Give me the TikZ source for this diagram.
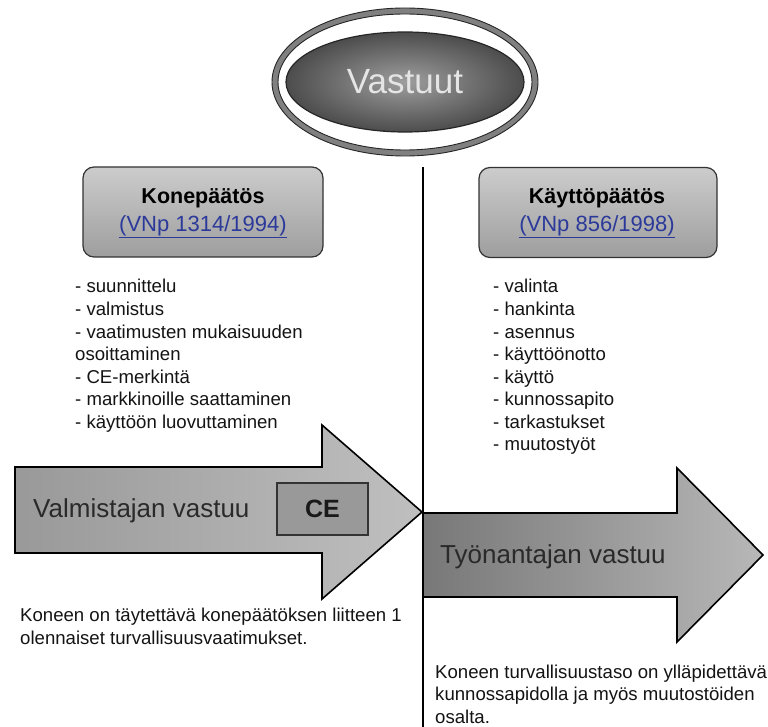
\documentclass[tikz,border=0pt]{standalone}
\usepackage{fontspec}
\setmainfont{Liberation Sans}
\usetikzlibrary{shapes.geometric}
\definecolor{linkblue}{HTML}{2B3A9A}
\definecolor{arrowtext}{HTML}{2A2A2A}
\tikzset{
  listtext/.style={anchor=base west, inner sep=0pt, font=\fontsize{18.6}{22}\selectfont, text=black!92},
  titlebox/.style={draw=black!80, line width=1.2pt, rounded corners=11pt,
    top color=black!20, middle color=white, bottom color=black!38,
    minimum width=240pt, minimum height=90pt, inner sep=0pt},
  boxtitle/.style={inner sep=0pt, font=\bfseries\fontsize{21.5}{24}\selectfont},
  boxlink/.style={inner sep=0pt, font=\fontsize{22}{24}\selectfont, text=linkblue},
  bigarrow/.style={draw=black, line width=1.6pt, line join=miter},
  arrowlabel/.style={anchor=west, inner sep=0pt, font=\fontsize{26}{30}\selectfont, text=arrowtext},
}
\begin{document}
\begin{tikzpicture}[x=1pt,y=-1pt]
\useasboundingbox (0,0) rectangle (768,727);
\fill[white] (0,0) rectangle (768,727);

% title ellipse
\fill[black!50, even odd rule] (405,82) ellipse [x radius=133, y radius=74]
      (405,82) ellipse [x radius=127, y radius=68];
\draw[black!85, line width=0.9pt] (405,82) ellipse [x radius=133, y radius=74];
\draw[black!85, line width=0.9pt] (405,82) ellipse [x radius=127, y radius=68];
\node[ellipse, draw=black!85, line width=1.2pt, inner color=black!38, outer color=black!70,
      minimum width=238pt, minimum height=100pt, inner sep=0pt,
      font=\fontsize{35}{40}\selectfont, text=black!10] (vastuut) at (405,82) {Vastuut};

% vertical divider
\coordinate (vtop) at (423,167);
\coordinate (vbot) at (423,727);

% arrows
\path[bigarrow, left color=black!40, right color=black!25]
  (15,467) -- (322,467) -- (322,425) -- (422,512) -- (322,599) -- (322,553) -- (15,553) -- cycle;
\path[bigarrow, left color=black!53, right color=black!28]
  (423,513) -- (677,513) -- (677,468) -- (763,555) -- (677,642) -- (677,597) -- (423,597) -- cycle;

\draw[black, line width=1.8pt] (vtop) -- (vbot);

\node[draw=black!80, line width=1.2pt, fill=black!40, minimum width=91pt, minimum height=52pt,
      inner sep=0pt, font=\bfseries\fontsize{25}{28}\selectfont, text=black!90] (ce) at (322.5,509) {CE};
\node[arrowlabel] (valm) at (33,511) {Valmistajan vastuu};
\node[arrowlabel] (tyon) at (440,557) {Työnantajan vastuu};

% boxes
\node[titlebox] (kbox) at (203,212) {};
\node[boxtitle] (ktitle) at (203,198) {Konepäätös};
\node[boxlink] (klink) at (203,227) {\underline{(VNp 1314/1994)}};
\node[titlebox, minimum width=238pt] (kkbox) at (598,212.5) {};
\node[boxtitle] (kktitle) at (597,198) {Käyttöpäätös};
\node[boxlink] (kklink) at (597,227) {\underline{(VNp 856/1998)}};

% left list
\foreach \t [count=\i from 0] in {- suunnittelu, - valmistus, - vaatimusten mukaisuuden, osoittaminen, - CE-merkintä, - markkinoille saattaminen, - käyttöön luovuttaminen}
  \node[listtext] (ll\i) at (75,293+22.5*\i) {\t};

% right list
\foreach \t [count=\i from 0] in {- valinta, - hankinta, - asennus, - käyttöönotto, - käyttö, - kunnossapito, - tarkastukset, - muutostyöt}
  \node[listtext] (rl\i) at (493,293+22.5*\i) {\t};

% bottom texts
\node[listtext] (bl1) at (20,621) {Koneen on täytettävä konepäätöksen liitteen 1};
\node[listtext] (bl2) at (20,644) {olennaiset turvallisuusvaatimukset.};
\node[listtext] (br1) at (435,678) {Koneen turvallisuustaso on ylläpidettävä};
\node[listtext] (br2) at (435,700.5) {kunnossapidolla ja myös muutostöiden};
\node[listtext] (br3) at (435,723) {osalta.};
\end{tikzpicture}
\end{document}
